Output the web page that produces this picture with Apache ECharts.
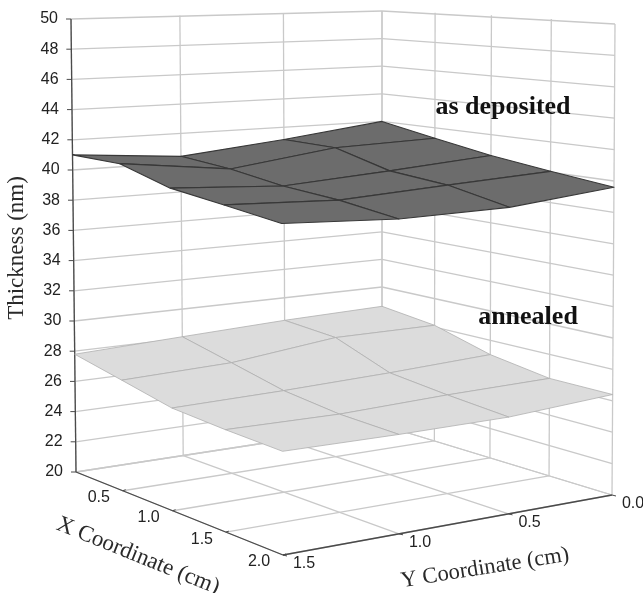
<!DOCTYPE html>
<html>
<head>
<meta charset="utf-8">
<style>html,body{margin:0;padding:0;background:#fff}#c{width:643px;height:593px}</style>
<script src="https://cdn.jsdelivr.net/npm/echarts@6/dist/echarts.min.js"></script>
</head>
<body>
<div id="c"></div>
<script>
// ---- data -----
const xCoords = [0, 0.5, 1.0, 1.5, 2.0];
const yCoords = [0, 0.5, 1.0, 1.5];
const zTicks = [20,22,24,26,28,30,32,34,36,38,40,42,44,46,48,50];
const xTickLabels = ['0.5','1.0','1.5','2.0'];
const yTickLabels = ['0.0','0.5','1.0','1.5'];
// thickness: one row per Y coordinate, one column per X coordinate
const asDepY00 = [42.0, 41.2, 40.5, 40.0, 39.6];
const asDepY05 = [41.1, 41.0, 40.0, 39.7, 39.0];
const asDepY10 = [40.4, 40.1, 39.6, 39.4, 39.0];
const asDepY15 = [41.0, 41.0, 40.1, 39.8, 39.5];
const annealedY00 = [28.6, 28.1, 27.0, 26.4, 26.4];
const annealedY05 = [28.4, 28.1, 26.7, 26.3, 26.0];
const annealedY10 = [28.1, 27.3, 26.5, 26.1, 26.0];
const annealedY15 = [27.8, 27.1, 26.4, 26.2, 26.1];
const asDeposited = [asDepY00, asDepY05, asDepY10, asDepY15];
const annealed = [annealedY00, annealedY05, annealedY10, annealedY15];

// ---- 3D view: floor corners on the page, and how the box rises at each -----
const view = {
  floor: [[382,425],[612,495],[283,555],[76,472]],
  rise:  [[0,-414],[3,-471],[-2,-510],[-5,-453]],
  xMax: 2, yMax: 1.5, zMin: 20, zMax: 50
};
function quadMap(q) {
  const [p0,p1,p2,p3] = q;
  const dx1=p1[0]-p2[0], dx2=p3[0]-p2[0], sx=p0[0]-p1[0]+p2[0]-p3[0];
  const dy1=p1[1]-p2[1], dy2=p3[1]-p2[1], sy=p0[1]-p1[1]+p2[1]-p3[1];
  const d=dx1*dy2-dx2*dy1;
  const g=(sx*dy2-dx2*sy)/d, h=(dx1*sy-sx*dy1)/d;
  const a=p1[0]-p0[0]+g*p1[0], b=p3[0]-p0[0]+h*p3[0], c=p0[0];
  const e=p1[1]-p0[1]+g*p1[1], f=p3[1]-p0[1]+h*p3[1], i=p0[1];
  return (u,v)=>{const w=g*u+h*v+1;return [(a*u+b*v+c)/w,(e*u+f*v+i)/w];};
}
const floorMap = quadMap(view.floor);
function project(X,Y,Z) {
  const u=X/view.xMax, v=Y/view.yMax, t=(Z-view.zMin)/(view.zMax-view.zMin);
  const b=floorMap(u,v), r=view.rise;
  const bil=k=>r[0][k]*(1-u)*(1-v)+r[1][k]*u*(1-v)+r[2][k]*u*v+r[3][k]*(1-u)*v;
  return [b[0]+bil(0)*t, b[1]+bil(1)*t];
}

// ---- helpers -----
const gridColor='#c9c9c9', axisColor='#4a4a4a';
function lineEl(api,a,b,color,w) {
  const p=api.coord(a), q=api.coord(b);
  return {type:'line',shape:{x1:p[0],y1:p[1],x2:q[0],y2:q[1]},style:{stroke:color,lineWidth:w},silent:true};
}
const xEnd=view.xMax, yEnd=view.yMax, z0=view.zMin, z1=view.zMax;

// wall and floor gridlines, as 3D segment endpoints
const gridSegs=[];
zTicks.forEach(z=>{
  gridSegs.push([[0,0,z],[0,yEnd,z]]);
  gridSegs.push([[0,0,z],[xEnd,0,z]]);
});
yCoords.forEach(y=>{
  gridSegs.push([[0,y,z0],[0,y,z1]]);
  gridSegs.push([[0,y,z0],[xEnd,y,z0]]);
});
xCoords.forEach(x=>{
  gridSegs.push([[x,0,z0],[x,0,z1]]);
  gridSegs.push([[x,0,z0],[x,yEnd,z0]]);
});

function surfaceCells(){
  const out=[];
  for(let j=0;j<yCoords.length-1;j++)for(let i=0;i<xCoords.length-1;i++){
    out.push([i,j]);
  }
  return out;
}
function surfaceSeries(rows,fill,edge,w){
  return {
    type:'custom',coordinateSystem:'cartesian2d',silent:true,clip:false,
    encode:{x:0,y:1},
    data:surfaceCells(),
    renderItem(params,api){
      const i=api.value(0), j=api.value(1);
      const corners=[[i,j],[i+1,j],[i+1,j+1],[i,j+1]].map(([a,b])=>
        api.coord(project(xCoords[a],yCoords[b],rows[b][a])));
      return {type:'polygon',shape:{points:corners},
        style:{fill:fill,stroke:edge,lineWidth:w,lineJoin:'round'},silent:true};
    }
  };
}
const frameSeries={
  type:'custom',coordinateSystem:'cartesian2d',silent:true,clip:false,
  encode:{x:0,y:1},
  data:gridSegs.map((s,k)=>[k,0]),
  renderItem(params,api){
    const s=gridSegs[api.value(0)];
    return lineEl(api,project(...s[0]),project(...s[1]),gridColor,1.3);
  }
};
function textEl(api,at,str,align){
  const p=api.coord(at);
  return {type:'text',x:p[0],y:p[1],silent:true,style:{
    text:str,align:align,verticalAlign:'middle',
    font:'16px "Liberation Sans"',fill:'#222'}};
}
const axisSeries={
  type:'custom',coordinateSystem:'cartesian2d',silent:true,clip:false,
  encode:{x:0,y:1},
  data:[[0,0]],
  renderItem(params,api){
    const kids=[];
    const add=(a,b,c,w)=>kids.push(lineEl(api,a,b,c,w));
    add(project(0,yEnd,z0),project(0,yEnd,z1),axisColor,1.3);
    add(project(0,yEnd,z0),project(xEnd,yEnd,z0),axisColor,1.3);
    add(project(xEnd,yEnd,z0),project(xEnd,0,z0),axisColor,1.3);
    zTicks.forEach(z=>{
      const p=project(0,yEnd,z);
      add(p,[p[0]-5,p[1]],axisColor,1);
      kids.push(textEl(api,[p[0]-13,p[1]],String(z),'right'));
    });
    xCoords.slice(1).forEach((x,k)=>{
      const p=project(x,yEnd,z0);
      add(p,[p[0]+3,p[1]-1],axisColor,1);
      kids.push(textEl(api,[p[0]-24,p[1]+7],xTickLabels[k],'center'));
    });
    yCoords.forEach((y,k)=>{
      const p=project(xEnd,y,z0);
      add(p,[p[0]+4,p[1]+1],axisColor,1);
      kids.push(textEl(api,[p[0]+21,p[1]+9],yTickLabels[k],'center'));
    });
    return {type:'group',children:kids,silent:true};
  }
};
function title(text,x,y,deg,size,weight){
  return {type:'text',x:x,y:y,rotation:deg*Math.PI/180,silent:true,z:50,style:{
    text:text,align:'center',verticalAlign:'middle',
    font:(weight||'normal')+' '+size+'px "Liberation Serif"',fill:weight?'#111':'#2a2a2a'}};
}

const chart=echarts.init(document.getElementById('c'),null,{renderer:'canvas'});
chart.setOption({
  animation:false,
  backgroundColor:'#fff',
  tooltip:{show:false},
  grid:{left:0,right:0,top:0,bottom:0},
  xAxis:{type:'value',min:0,max:643,show:false},
  yAxis:{type:'value',min:0,max:593,inverse:true,show:false},
  series:[
    frameSeries,
    axisSeries,
    surfaceSeries(annealed,'#dcdcdc','#b0b0b0',0.8),
    surfaceSeries(asDeposited,'#6c6c6c','#383838',1.1)
  ],
  graphic:[
    title('Thickness (nm)',17,248,90,23),
    title('X Coordinate (cm)',138,556,-22,23),
    title('Y Coordinate (cm)',485,568,9,22.5),
    title('as deposited',503,107,0,26,'bold'),
    title('annealed',528,317,0,26,'bold')
  ]
});
</script>
</body>
</html>
